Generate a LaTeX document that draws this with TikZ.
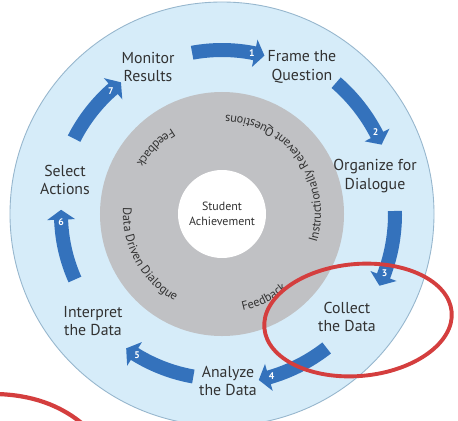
\documentclass[tikz,border=0pt]{standalone}
\usepackage{fontspec}
\setmainfont{PT Sans}
\usepackage{tikz}
\usetikzlibrary{decorations.text}
\definecolor{ringblue}{RGB}{214,236,249}
\definecolor{ringedge}{RGB}{150,182,205}
\definecolor{ringgray}{RGB}{192,193,196}
\definecolor{arrowblue}{RGB}{52,114,188}
\definecolor{inkgray}{RGB}{50,50,50}
\definecolor{markred}{RGB}{212,62,62}
\newcommand{\ringfont}{\fontsize{7}{8}\selectfont}
% curved block arrow: mid angle, radius, number, name
\newcommand{\cyclearrow}[4]{%
  \fill[arrowblue] ({#1+12}:{#2-0.14}) arc[start angle={#1+12}, end angle={#1-10}, radius={#2-0.14}]
    -- ({#1-10}:{#2-0.28}) -- ({#1-13.5}:#2) -- ({#1-10}:{#2+0.28})
    -- ({#1-10}:{#2+0.14}) arc[start angle={#1-10}, end angle={#1+12}, radius={#2+0.14}] -- cycle;
  \node[stepnum] (#4) at ({#1-9}:#2) {#3};
}

\begin{document}
\begin{tikzpicture}[inner sep=1pt]
    \tikzset{steplabel/.style={align=center,font=\fontsize{9}{10.5}\selectfont,text=inkgray}}
    \tikzset{stepnum/.style={font=\fontsize{5.5}{6}\selectfont\bfseries,text=white,inner sep=0pt}}
    \tikzset{ringtext/.style={decorate,decoration={text along path,text align=center,text color=inkgray,text={|\ringfont|#1}}}}

    \clip (-4.44,-4.12) rectangle (4.72,4.28);
    \fill[white] (-4.44,-4.12) rectangle (4.72,4.28);

    \node [circle,draw=ringedge,line width=0.5pt,fill=ringblue,minimum size=8.48cm] (outer) at (0,0) {};
    \node [circle,fill=ringgray,minimum size=4.88cm] (ring) at (0,0) {};
    \node [circle,fill=white,minimum size=1.76cm,align=center,text=inkgray,font=\fontsize{6.8}{8.5}\selectfont] (core) at (0,0) {Student\\Achievement};

    % texts round the gray ring
    \path[ringtext={Instructionally Relevant Questions}] (-60:1.98) arc[start angle=-60, end angle=131, radius=1.98];
    \path[ringtext={Feedback}] (100:1.98) arc[start angle=100, end angle=170, radius=1.98];
    \path[ringtext={Data Driven Dialogue}] (160:1.98) arc[start angle=160, end angle=258, radius=1.98];
    \path[ringtext={Feedback}] (-100:1.98) arc[start angle=-100, end angle=-27, radius=1.98];

    % the seven steps
    \node [steplabel] (frame) at (1.60,2.94) {Frame the\\Question};
    \node [steplabel] (organize) at (3.06,0.76) {Organize for\\Dialogue};
    \node [steplabel] (collect) at (2.50,-2.06) {Collect\\the Data};
    \node [steplabel] (analyze) at (0.12,-3.34) {Analyze\\the Data};
    \node [steplabel] (interpret) at (-2.58,-2.14) {Interpret\\the Data};
    \node [steplabel] (select) at (-3.14,0.68) {Select\\Actions};
    \node [steplabel] (monitor) at (-1.48,2.94) {Monitor\\Results};

    \cyclearrow{88.5}{3.28}{1}{n1}
    \cyclearrow{37}{3.48}{2}{n2}
    \cyclearrow{-11}{3.46}{3}{n3}
    \cyclearrow{-64}{3.40}{4}{n4}
    \cyclearrow{-112}{3.30}{5}{n5}
    \cyclearrow{-168}{3.22}{6}{n6}
    \cyclearrow{141}{3.32}{7}{n7}

    % red marks
    \draw[markred,line width=2.2pt,rotate around={5:(2.72,-2.12)}] (2.72,-2.12) ellipse [x radius=1.88, y radius=1.12];
    \draw[markred,line width=2.4pt] (-4.5,-3.6) .. controls (-3.84,-3.62) and (-3.24,-3.80) .. (-2.74,-4.24);
\end{tikzpicture}
\end{document}
